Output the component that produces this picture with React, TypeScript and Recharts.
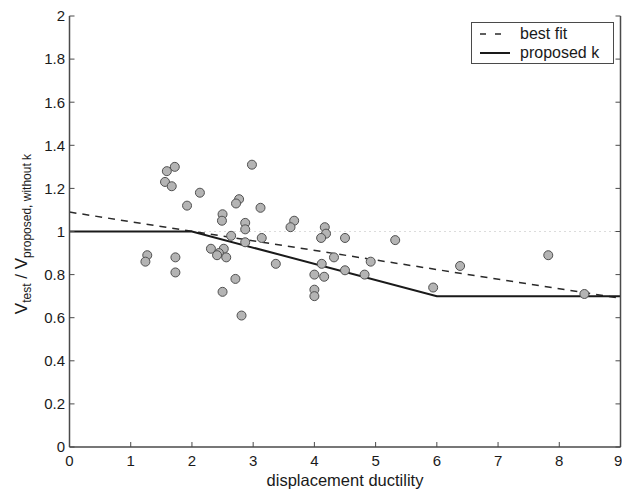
import React from 'react';
import {
  ComposedChart,
  XAxis,
  YAxis,
  Line,
  Scatter,
  ReferenceLine,
  Legend,
} from 'recharts';

// ---- data ----
const ductility = [
  1.72, 1.59, 1.56, 1.67, 2.98, 2.13, 1.92, 2.77, 2.72, 3.12,
  2.5, 2.49, 2.87, 2.87, 3.67, 3.61, 2.64, 3.14, 2.87, 2.31,
  2.52, 2.44, 2.41, 2.56, 1.27, 1.24, 1.73, 3.37, 1.73, 2.71,
  2.5, 2.81, 4.17, 4.19, 4.11, 4.5, 5.32, 4.32, 4.12, 4.92,
  4.5, 4.0, 4.16, 4.82, 6.38, 4.0, 4.0, 5.94, 7.82, 8.41,
];
const ratio = [
  1.3, 1.28, 1.23, 1.21, 1.31, 1.18, 1.12, 1.15, 1.13, 1.11,
  1.08, 1.05, 1.04, 1.01, 1.05, 1.02, 0.98, 0.97, 0.95, 0.92,
  0.92, 0.9, 0.89, 0.88, 0.89, 0.86, 0.88, 0.85, 0.81, 0.78,
  0.72, 0.61, 1.02, 0.99, 0.97, 0.97, 0.96, 0.88, 0.85, 0.86,
  0.82, 0.8, 0.79, 0.8, 0.84, 0.73, 0.7, 0.74, 0.89, 0.71,
];
const bestFitX = [0, 9];
const bestFitY = [1.09, 0.69];
const proposedX = [0, 2, 6, 9];
const proposedY = [1, 1, 0.7, 0.7];
const xTicks = [0, 1, 2, 3, 4, 5, 6, 7, 8, 9];
const yTicks = [0, 0.2, 0.4, 0.6, 0.8, 1, 1.2, 1.4, 1.6, 1.8, 2];

const scatterData = ductility.map((x, i) => ({ x, y: ratio[i] }));
const bestFitData = bestFitX.map((x, i) => ({ x, y: bestFitY[i] }));
const proposedData = proposedX.map((x, i) => ({ x, y: proposedY[i] }));

const FONT = '"Liberation Sans", Arial, Helvetica, sans-serif';
const AXIS = '#4a4a4a';
const TEXT = '#1a1a1a';

const tickStyle = { fontSize: 15, fill: TEXT, fontFamily: FONT };
const fmt = (v: number) => String(Number(v.toFixed(1)));
const emptyTick = () => <g />;

const Dot = (p: any) => (
  <circle cx={p.cx} cy={p.cy} r={4.5} fill="#b4b4b4" stroke="#505050" strokeWidth={1} />
);

const LegendBox = (props: any) => {
  const items = (props.payload || []).filter((e: any) => e.type !== 'none');
  return (
    <div
      style={{
        boxSizing: 'border-box',
        width: 143,
        height: 42,
        border: `1.5px solid ${AXIS}`,
        background: '#fff',
        fontFamily: FONT,
        fontSize: 16,
        color: TEXT,
        position: 'relative',
      }}
    >
      {items.map((e: any, i: number) => {
        const dashed = e.payload && e.payload.strokeDasharray;
        return (
          <div
            key={i}
            style={{
              position: 'absolute',
              left: 7,
              top: 1 + i * 19,
              height: 19,
              display: 'flex',
              alignItems: 'center',
              whiteSpace: 'nowrap',
              lineHeight: '19px',
            }}
          >
            <svg width={32} height={10} style={{ display: 'block' }}>
              <line
                x1={1}
                y1={5}
                x2={31}
                y2={5}
                stroke={e.color}
                strokeWidth={dashed ? 1.5 : 2}
                strokeDasharray={dashed ? '6 9' : undefined}
              />
            </svg>
            <span style={{ marginLeft: 9 }}>{e.value}</span>
          </div>
        );
      })}
    </div>
  );
};

const YLabel = () => (
  <text
    x={27}
    y={234}
    transform="rotate(-90, 27, 234)"
    textAnchor="middle"
    fontFamily={FONT}
    fill={TEXT}
    fontSize={17}
  >
    <tspan>V</tspan>
    <tspan dy={4} fontSize={12}>test</tspan>
    <tspan dy={-4}> / V</tspan>
    <tspan dy={4} fontSize={12}>proposed, without k</tspan>
  </text>
);

export default function App() {
  return (
    <div style={{ position: 'absolute', left: 0, top: 0, width: 622, height: 491, background: '#fff' }}>
      <ComposedChart
        width={622}
        height={491}
        margin={{ top: 16, right: 0, bottom: 0, left: 0 }}
        style={{ fontFamily: FONT }}
      >
        <XAxis
          xAxisId={0}
          type="number"
          dataKey="x"
          domain={[0, 9]}
          ticks={xTicks}
          allowDataOverflow
          height={44}
          tick={tickStyle}
          tickSize={-5}
          tickMargin={13}
          stroke={AXIS}
          axisLine={{ stroke: AXIS, strokeWidth: 1.5 }}
          tickLine={{ stroke: AXIS, strokeWidth: 1 }}
          label={{
            value: 'displacement ductility',
            position: 'insideBottom',
            offset: 5,
            style: { fontSize: 16.5, fill: TEXT, fontFamily: FONT },
          }}
        />
        <XAxis
          xAxisId="top"
          orientation="top"
          type="number"
          domain={[0, 9]}
          ticks={xTicks}
          allowDataOverflow
          height={0}
          tick={emptyTick}
          tickSize={-5}
          axisLine={{ stroke: AXIS, strokeWidth: 1.5 }}
          tickLine={{ stroke: AXIS, strokeWidth: 1 }}
        />
        <YAxis
          yAxisId={0}
          type="number"
          domain={[0, 2]}
          ticks={yTicks}
          allowDataOverflow
          width={69.5}
          tick={tickStyle}
          tickFormatter={fmt}
          tickSize={-5}
          tickMargin={9.5}
          axisLine={{ stroke: AXIS, strokeWidth: 1.5 }}
          tickLine={{ stroke: AXIS, strokeWidth: 1 }}
          label={{ content: YLabel }}
        />
        <YAxis
          yAxisId="right"
          orientation="right"
          type="number"
          domain={[0, 2]}
          ticks={yTicks}
          allowDataOverflow
          width={1.5}
          tick={emptyTick}
          tickSize={-5}
          axisLine={{ stroke: AXIS, strokeWidth: 1.5 }}
          tickLine={{ stroke: AXIS, strokeWidth: 1 }}
        />
        <ReferenceLine y={1} stroke="#b8b8b8" strokeDasharray="1 4" strokeWidth={1} ifOverflow="hidden" />
        <Line
          data={bestFitData}
          dataKey="y"
          name="best fit"
          stroke="#2a2a2a"
          strokeWidth={1.5}
          strokeDasharray="7 6"
          dot={false}
          activeDot={false}
          isAnimationActive={false}
          type="linear"
        />
        <Line
          data={proposedData}
          dataKey="y"
          name="proposed k"
          stroke="#1a1a1a"
          strokeWidth={2}
          dot={false}
          activeDot={false}
          isAnimationActive={false}
          type="linear"
        />
        <Scatter
          data={scatterData}
          dataKey="y"
          name="tests"
          legendType="none"
          shape={Dot}
          isAnimationActive={false}
        />
        <Legend
          content={LegendBox}
          layout="horizontal"
          verticalAlign="middle"
          align="center"
          wrapperStyle={{ position: 'absolute', left: 471, top: 22, width: 143, height: 42 }}
        />
      </ComposedChart>
    </div>
  );
}
